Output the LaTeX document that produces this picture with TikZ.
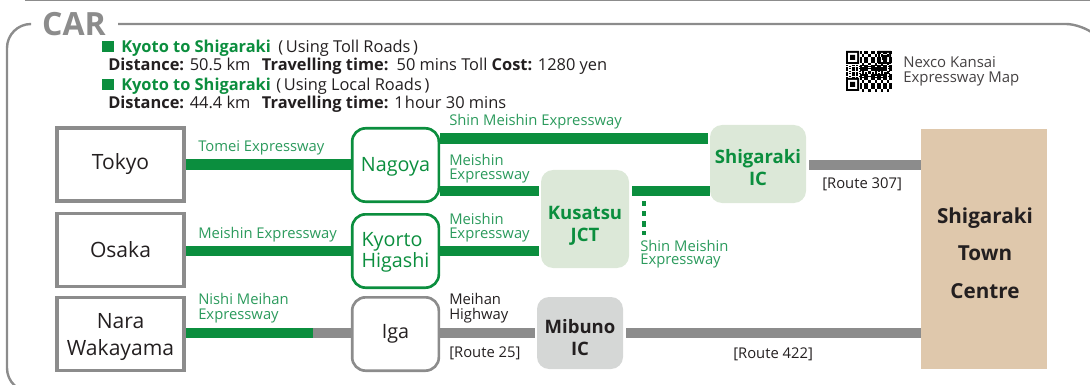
\documentclass[tikz,border=0pt]{standalone}
\usepackage{fontspec}
\setmainfont{Open Sans}
\usetikzlibrary{positioning}
\definecolor{roadgreen}{HTML}{0B8E3E}
\definecolor{labelgreen}{HTML}{2B9A5C}
\definecolor{roadgray}{HTML}{8C8C8C}
\definecolor{palegreen}{HTML}{DCE8D8}
\definecolor{palegray}{HTML}{D5D7D6}
\definecolor{sand}{HTML}{DFC8AC}
\definecolor{inkdark}{HTML}{231F20}
\newcommand{\lowertext}[1]{\rule{0pt}{#1}}
\tikzset{
    x=0.75pt, y=-0.75pt,
    city/.style={draw=roadgray, line width=2.6pt, minimum width=95.5pt, minimum height=54.5pt, align=center, font=\fontsize{15.8}{20}\selectfont, text=inkdark, inner sep=0pt},
    hub/.style={draw=roadgreen, line width=2pt, rounded corners=10pt, minimum width=65pt, minimum height=55pt, align=left, font=\fontsize{14.8}{14.5}\selectfont, text=roadgreen, inner sep=0pt},
    icbox/.style={fill=palegreen, rounded corners=9pt, align=center, font=\fontsize{13.9}{16.5}\selectfont\bfseries, text=roadgreen, inner sep=0pt},
    road/.style={line width=8pt, roadgreen},
    route/.style={line width=8pt, roadgray},
    greenlabel/.style={font=\fontsize{11.1}{11.3}\selectfont, text=labelgreen, align=left, anchor=west, inner sep=0pt},
    darklabel/.style={font=\fontsize{11.1}{11.3}\selectfont, text=inkdark, align=left, anchor=west, inner sep=0pt},
    infoline/.style={font=\fontsize{12.3}{14}\selectfont, text=inkdark, anchor=west, inner sep=0pt},
}
\begin{document}
\begin{tikzpicture}
    \useasboundingbox (0,0) rectangle (1090,385);
    % top rule and frame
    \draw[roadgray, line width=2pt] (25,0) -- (1090,0);
    \node[font=\fontsize{24}{24}\selectfont\bfseries, text=roadgray, inner sep=0pt] (title) at (74,24) {CAR};
    \coordinate (frameA) at (29,24);
    \coordinate (frameB) at (118,24);
    \draw[roadgray, line width=1.8pt, rounded corners=18pt] (frameA) -- (7,24) -- (7,392) -- (50,392);
    \draw[roadgray, line width=1.8pt, rounded corners=12pt] (frameB) -- (1082,24) -- (1094,34);

    % travel information
    \fill[roadgreen] (102,41) rectangle (114,52);
    \node[infoline, text=roadgreen] (tollhead) at (121,48.5) {\textbf{Kyoto to Shigaraki}};
    \node[infoline] (tollnote) at (278,48) {(\,Using Toll Roads\,)};
    \node[infoline] (tollinfo) at (108,66.5) {\textbf{Distance:} 50.5 km\hspace{0.7em}\textbf{Travelling time:}\hspace{0.15em} 50 mins Toll \textbf{Cost:} 1280 yen};
    \fill[roadgreen] (102,79) rectangle (114,90);
    \node[infoline, text=roadgreen] (localhead) at (121,86) {\textbf{Kyoto to Shigaraki}};
    \node[infoline] (localnote) at (276,86) {(\,Using Local Roads\,)};
    \node[infoline] (localinfo) at (108,104) {\textbf{Distance:} 44.4 km\hspace{0.7em}\textbf{Travelling time:} 1\hspace{0.08em}hour 30 mins};

    % qr code
    \fill[black] (846,51) rectangle (859,64) (878,51) rectangle (891,64) (846,78) rectangle (859,91);
    \fill[white] (848,53) rectangle (857,62) (880,53) rectangle (889,62) (848,80) rectangle (857,89);
    \fill[black] (850,55) rectangle (855,60) (882,55) rectangle (887,60) (850,82) rectangle (855,87);
    \foreach \i in {0,...,14}
        \foreach \j in {0,...,13} {
            \pgfmathtruncatemacro{\bit}{mod(\i*\i*7+\j*\j*5+\i*\j*3+\i+2*\j,3)}
            \ifnum\bit=0
                \fill[black] ({860+\i*2.1},{51+\j*2.9}) rectangle ++(2.1,2.9);
                \fill[black] ({846+\j*3.2},{65+\i*0.85}) rectangle ++(2.2,0.85);
            \fi
        }
    \node[darklabel, font=\fontsize{11.2}{11.3}\selectfont, text=inkdark!85] (qrnote) at (903,71) {Nexco Kansai\\Expressway Map};

    % places
    \node[city] (tokyo) at (120.5,164.5) {Tokyo};
    \node[city] (osaka) at (120.5,250) {Osaka};
    \node[city] (nara) at (120.5,334) {\lowertext{15.8pt}Nara\\Wakayama};
    \node[hub] (nagoya) at (395.5,165) {\lowertext{13pt}Nagoya};
    \node[hub] (higashi) at (395.5,251) {\lowertext{13pt}Kyorto\\Higashi};
    \node[hub, draw=roadgray, text=inkdark] (iga) at (395.5,334) {Iga};
    \node[icbox, minimum width=66pt, minimum height=73.5pt] (kusatsu) at (585,219) {\lowertext{19.6pt}Kusatsu\\JCT};
    \node[icbox, minimum width=72pt, minimum height=58.5pt] (shigaraki) at (758,164) {\lowertext{16.6pt}Shigaraki\\IC};
    \node[icbox, fill=palegray, text=inkdark, minimum width=64.5pt, minimum height=54pt] (mibuno) at (580,333) {\lowertext{18pt}Mibuno\\IC};
    \node[fill=sand, minimum width=94.5pt, minimum height=180pt, inner sep=0pt] (centre) at (984,249) {};
    \node[font=\fontsize{15.5}{28}\selectfont\bfseries, text=inkdark, align=center, inner sep=0pt] (centretext) at (985,253) {Shigaraki\\Town\\Centre};

    % expressways
    \draw[road] (tokyo.east |- 0,164.5) -- (nagoya.west |- 0,164.5);
    \draw[road] (osaka.east |- 0,251) -- (higashi.west |- 0,251);
    \coordinate (meihanend) at (313,333);
    \draw[route] (meihanend) -- (iga.west |- 0,333);
    \draw[road] (nara.east |- 0,333) -- (meihanend);
    \draw[road] (nagoya.east |- 0,138.5) -- (708,138.5);
    \draw[road] (nagoya.east |- 0,191) -- (538.5,191);
    \draw[road] (higashi.east |- 0,251) -- (538.5,251);
    \draw[road] (632,191) -- (shigaraki.west |- 0,191);
    \coordinate (dashtop) at (644,201);
    \coordinate (dashend) at (644,235);
    \draw[roadgreen, line width=2.4pt, dash pattern=on 4pt off 3.6pt] (dashtop) -- (dashend);
    \draw[route] (iga.east |- 0,333) -- (535,333);
    \draw[route] (626,333) -- (centre.west |- 0,333);
    \draw[route] (809,165) -- (centre.west |- 0,165);

    % road labels
    \node[greenlabel] (tomei) at (198,148) {Tomei Expressway};
    \node[greenlabel] (meishinA) at (198,235) {Meishin Expressway};
    \node[greenlabel] (nishi) at (198,308) {Nishi Meihan\\Expressway};
    \node[greenlabel] (shinA) at (449,122) {Shin Meishin Expressway};
    \node[greenlabel] (meishinB) at (449,168.5) {Meishin\\[-1.3pt]Expressway};
    \node[greenlabel] (meishinC) at (449,227.5) {Meishin\\[-1.3pt]Expressway};
    \node[greenlabel] (shinB) at (640,254) {Shin Meishin\\[-1.3pt]Expressway};
    \node[darklabel] (meihan) at (449,308) {Meihan\\Highway};
    \node[darklabel] (route25) at (449,353) {[Route 25]};
    \node[darklabel] (route422) at (733,354) {[Route 422]};
    \node[darklabel] (route307) at (822,184) {[Route 307]};
\end{tikzpicture}
\end{document}
